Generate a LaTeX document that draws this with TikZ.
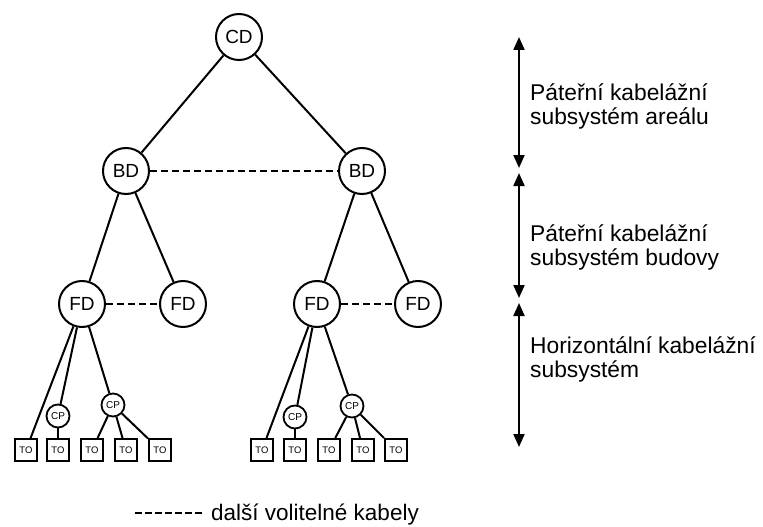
\documentclass[tikz,border=0pt]{standalone}
\usepackage{fontspec}
\setmainfont{Liberation Sans}
\usetikzlibrary{arrows.meta}
\begin{document}
\begin{tikzpicture}[x=1pt,y=-1pt,
  big/.style={circle,draw,line width=2pt,minimum size=46pt,inner sep=0pt,font=\fontsize{19}{19}\selectfont},
  cpnode/.style={circle,draw,line width=1.8pt,minimum size=23pt,inner sep=0pt,font=\fontsize{10}{10}\selectfont},
  tobox/.style={rectangle,draw,line width=2pt,minimum size=22pt,inner sep=0pt,font=\fontsize{9.5}{10}\selectfont},
  link/.style={line width=2pt},
  opt/.style={line width=2pt,dash pattern=on 7pt off 4pt},
  lbl/.style={align=left,anchor=west,inner sep=0pt,font=\fontsize{22.8}{24}\selectfont},
  span/.style={line width=2pt,{Triangle[length=13pt,width=11pt]}-{Triangle[length=13pt,width=11pt]}}
]
\useasboundingbox (0,0) rectangle (763,527);

% main nodes
\node[big] (cd) at (239,37) {CD};
\node[big] (bdl) at (126,171) {BD};
\node[big] (bdr) at (362,171) {BD};
\node[big] (fd1) at (82,304) {FD};
\node[big] (fd2) at (183,304) {FD};
\node[big] (fd3) at (317,304) {FD};
\node[big] (fd4) at (418,304) {FD};

% consolidation points
\node[cpnode] (cp1) at (58,416) {CP};
\node[cpnode] (cp2) at (113,405) {CP};
\node[cpnode] (cp3) at (295,417) {CP};
\node[cpnode] (cp4) at (352,406) {CP};

% telecommunication outlets
\node[tobox] (to1) at (26,450) {TO};
\node[tobox] (to2) at (58,450) {TO};
\node[tobox] (to3) at (92,450) {TO};
\node[tobox] (to4) at (126,450) {TO};
\node[tobox] (to5) at (160,450) {TO};
\node[tobox] (to6) at (262,450) {TO};
\node[tobox] (to7) at (295,450) {TO};
\node[tobox] (to8) at (329,450) {TO};
\node[tobox] (to9) at (363,450) {TO};
\node[tobox] (to10) at (396,450) {TO};

% links
\draw[link] (cd) -- (bdl);
\draw[link] (cd) -- (bdr);
\draw[link] (bdl) -- (fd1);
\draw[link] (bdl) -- (fd2);
\draw[link] (bdr) -- (fd3);
\draw[link] (bdr) -- (fd4);
\draw[link] (fd1) -- (to1);
\draw[link] (fd1) -- (cp1);
\draw[link] (fd1) -- (cp2);
\draw[link] (cp1) -- (to2);
\draw[link] (cp2) -- (to3);
\draw[link] (cp2) -- (to4);
\draw[link] (cp2) -- (to5);
\draw[link] (fd3) -- (to6);
\draw[link] (fd3) -- (cp3);
\draw[link] (fd3) -- (cp4);
\draw[link] (cp3) -- (to7);
\draw[link] (cp4) -- (to8);
\draw[link] (cp4) -- (to9);
\draw[link] (cp4) -- (to10);

% optional cables
\draw[opt] (bdl) -- (bdr);
\draw[opt] (fd1) -- (fd2);
\draw[opt] (fd3) -- (fd4);

% spans on the right
\coordinate (a0) at (519,37);
\coordinate (a1) at (519,168);
\coordinate (a2) at (519,173);
\coordinate (a3) at (519,298);
\coordinate (a4) at (519,303);
\coordinate (a5) at (519,447);
\draw[span] (a0) -- (a1);
\draw[span] (a2) -- (a3);
\draw[span] (a4) -- (a5);

\node[lbl] (l1) at (530,106) {Páteřní kabelážní\\subsystém areálu};
\node[lbl] (l2) at (530,247) {Páteřní kabelážní\\subsystém budovy};
\node[lbl] (l3) at (530,359) {Horizontální kabelážní\\subsystém};

% legend
\coordinate (lg0) at (135,513);
\coordinate (lg1) at (205,513);
\draw[line width=2.5pt,dash pattern=on 7pt off 3pt] (lg0) -- (lg1);
\node[anchor=base west,inner sep=0pt,font=\fontsize{22.5}{24}\selectfont] (lgt) at (211,520) {další volitelné kabely};
\end{tikzpicture}
\end{document}
